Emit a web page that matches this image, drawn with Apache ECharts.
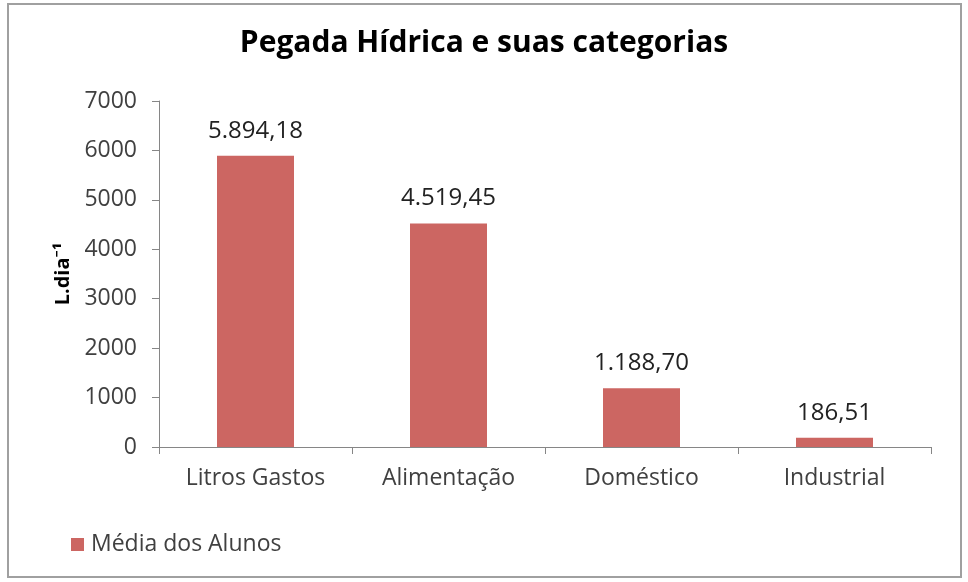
<!DOCTYPE html>
<html>
<head>
<meta charset="utf-8">
<script src="https://cdn.jsdelivr.net/npm/echarts@6/dist/echarts.min.js"></script>
<style>
html,body{margin:0;padding:0;background:#fff;}
#c{width:968px;height:582px;}
</style>
</head>
<body>
<div id="c"></div>
<script>
var categories = ['Litros Gastos', 'Alimentação', 'Doméstico', 'Industrial'];
var values = [5894.18, 4519.45, 1188.70, 186.51];
var seriesName = 'Média dos Alunos';
var titleText = 'Pegada Hídrica e suas categorias';
var yAxisName = 'L.dia⁻¹';
var yMin = 0, yMax = 7000, yStep = 1000;

function fmtBR(v) {
  var parts = v.toFixed(2).split('.');
  var intPart = parts[0].replace(/\B(?=(\d{3})+(?!\d))/g, '.');
  return intPart + ',' + parts[1];
}

var FONT = '"Open Sans", "Noto Sans", sans-serif';
var chart = echarts.init(document.getElementById('c'), null, {renderer: 'canvas'});
chart.setOption({
  backgroundColor: '#ffffff',
  animation: false,
  title: {
    text: titleText,
    left: 'center',
    top: 23,
    textStyle: {fontFamily: FONT, fontSize: 30, fontWeight: 'bold', color: '#000'}
  },
  graphic: [{
    type: 'rect',
    shape: {x: 8, y: 4, width: 953, height: 573},
    style: {fill: 'none', stroke: '#a0a0a0', lineWidth: 2},
    silent: true
  }],
  legend: {
    data: [seriesName],
    left: 66,
    top: 528,
    icon: 'rect',
    itemWidth: 13,
    itemHeight: 13,
    textStyle: {fontFamily: FONT, fontSize: 23, color: '#404040', padding: [0, 0, 0, 2]}
  },
  grid: {left: 159, right: 37, top: 101, bottom: 135, containLabel: false},
  xAxis: {
    type: 'category',
    data: categories,
    axisLine: {lineStyle: {color: '#868686', width: 1}},
    axisTick: {show: true, length: 7, alignWithLabel: false, lineStyle: {color: '#868686'}},
    axisLabel: {fontFamily: FONT, fontSize: 23, color: '#404040', margin: 20}
  },
  yAxis: {
    type: 'value',
    min: yMin, max: yMax, interval: yStep,
    name: yAxisName,
    nameLocation: 'middle',
    nameGap: 82,
    nameTextStyle: {fontFamily: FONT, fontSize: 20, fontWeight: 'bold', color: '#000'},
    axisLine: {show: true, lineStyle: {color: '#868686', width: 1}},
    axisTick: {show: true, length: 7, lineStyle: {color: '#868686'}},
    splitLine: {show: false},
    axisLabel: {fontFamily: FONT, fontSize: 23, color: '#404040', margin: 22,
      formatter: function (v) { return String(v); }}
  },
  series: [{
    name: seriesName,
    type: 'bar',
    data: values,
    barWidth: 77,
    itemStyle: {color: '#CC6662'},
    label: {
      show: true,
      position: 'top',
      distance: 13,
      fontFamily: FONT,
      fontSize: 24,
      color: '#222',
      formatter: function (p) { return fmtBR(p.value); }
    }
  }]
});
</script>
</body>
</html>
